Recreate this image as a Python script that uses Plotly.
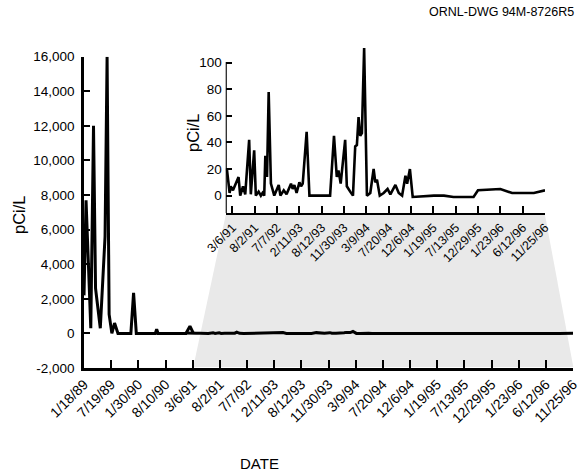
import plotly.graph_objects as go

W, H = 579, 476

# ---------------- data ----------------
tick_dates = ["1/18/89", "7/19/89", "1/30/90", "8/10/90", "3/6/91", "8/2/91",
              "7/7/92", "2/11/93", "8/12/93", "11/30/93", "3/9/94", "7/20/94",
              "12/6/94", "1/19/95", "7/13/95", "12/29/95", "1/23/96", "6/12/96",
              "11/25/96"]
SAMPLES_PER_TICK = 40          # category samples between labelled ticks
INSET_FIRST_TICK = 4           # inset starts at 3/6/91

# 1989-1991 record (sample number, pCi/L)
early_idx = [0, 3, 10, 14, 17, 24, 31, 34, 37, 41, 45, 50, 69, 73, 77,
             105, 107, 109, 150, 156, 161]
early_val = [2200, 7700, 300, 12000, 2600, 300, 5600, 16000, 1100, 0, 600, 0, 0,
             2350, 0, 0, 250, 0, 0, 420, 20]

# 1991-1996 record (sample number, pCi/L)
recent_idx = [150, 155, 157, 161, 165, 171, 174, 179, 183, 190, 193, 199, 202,
              207, 211, 214, 217, 219, 222, 225, 229, 235, 243, 246, 252, 257,
              265, 268, 271, 275, 280, 283, 286, 293, 298, 329, 335, 342, 347,
              350, 354, 362, 365, 371, 376, 380, 383, 386, 389, 392, 396, 401,
              407, 413, 416, 419, 424, 431, 438, 443, 452, 458, 464, 470, 473,
              478, 483, 521, 539, 556, 592, 600, 640, 661, 700, 720]
recent_val = [20.5, 2, 7, 4, 8, 14, 0, 7, 1, 42, 1, 34, 0,
              3, 0, 2, 0, 30, 14, 78, 9, 0, 8, 0, 4, 1,
              9, 5, 8, 2, 10, 7, 9, 48, 0, 0, 0, 45, 14,
              19, 9, 42, 7, 3, 0, 37, 38, 59, 45, 47, 111, 0,
              2, 20, 10, 12, 0, 2, 5, 1, 8, 2, 0, 15, 9,
              20, -1, 0, 0, -1, -1, 4, 5, 2, 2, 4]

main_yticks = [-2000, 0, 2000, 4000, 6000, 8000, 10000, 12000, 14000, 16000]
main_yticklabels = ["-2,000", "0", "2,000", "4,000", "6,000", "8,000",
                    "10,000", "12,000", "14,000", "16,000"]
inset_yticks = [0, 20, 40, 60, 80, 100]
inset_yticklabels = ["0", "20", "40", "60", "80", "100"]

# ---------------- helpers ----------------
def px_x(p):
    return p / W

def px_y(p):
    return 1 - p / H

main_tickvals = [i * SAMPLES_PER_TICK for i in range(len(tick_dates))]
inset_tickvals = main_tickvals[INSET_FIRST_TICK:]
inset_ticktext = tick_dates[INSET_FIRST_TICK:]

FONT = "Liberation Sans, Arial, sans-serif"

fig = go.Figure()
fig.add_trace(go.Scatter(x=early_idx, y=early_val, mode="lines",
                         line=dict(color="black", width=3), xaxis="x", yaxis="y",
                         showlegend=False, hoverinfo="skip"))
fig.add_trace(go.Scatter(x=recent_idx, y=recent_val, mode="lines",
                         line=dict(color="black", width=3), xaxis="x", yaxis="y",
                         showlegend=False, hoverinfo="skip"))
fig.add_trace(go.Scatter(x=recent_idx, y=recent_val, mode="lines",
                         line=dict(color="black", width=2.6), xaxis="x2", yaxis="y2",
                         showlegend=False, hoverinfo="skip"))

inset_xmin = main_tickvals[INSET_FIRST_TICK] - 12
inset_ymin, inset_ymax = -13.3, 112

fig.update_layout(
    template="none",
    width=W, height=H,
    margin=dict(l=0, r=0, t=0, b=0, pad=0),
    paper_bgcolor="white",
    plot_bgcolor="rgba(0,0,0,0)",
    font=dict(family=FONT, color="black", size=13),
    xaxis=dict(domain=[px_x(84), px_x(573)], range=[0, main_tickvals[-1]],
               tickmode="array", tickvals=main_tickvals, ticktext=tick_dates,
               tickangle=-45, ticks="inside", ticklen=8, tickwidth=1.5,
               tickcolor="black", showline=True, linewidth=2.5, linecolor="black",
               showgrid=False, zeroline=False, tickfont=dict(size=14),
               ticklabeloverflow="allow", automargin=False, anchor="y"),
    yaxis=dict(domain=[px_y(368), px_y(56.7)], range=[-2000, 16000],
               tickmode="array", tickvals=main_yticks, ticktext=main_yticklabels,
               ticks="inside", ticklen=6, tickwidth=1.5, tickcolor="black",
               showline=True, linewidth=2.5, linecolor="black", showgrid=False,
               zeroline=False, tickfont=dict(size=13.5), ticklabeloverflow="allow",
               ticklabelstandoff=4, automargin=False, anchor="x"),
    xaxis2=dict(domain=[px_x(225.7), px_x(545)], range=[inset_xmin, main_tickvals[-1]],
                tickmode="array", tickvals=inset_tickvals, ticktext=inset_ticktext,
                tickangle=-45, ticks="inside", ticklen=7, tickwidth=1.5,
                tickcolor="black", showline=True, linewidth=2.2, linecolor="black",
                showgrid=False, zeroline=False, tickfont=dict(size=12.5),
                ticklabeloverflow="allow", automargin=False, anchor="y2"),
    yaxis2=dict(domain=[px_y(213.3), px_y(46.7)], range=[inset_ymin, inset_ymax],
                tickmode="array", tickvals=inset_yticks, ticktext=inset_yticklabels,
                ticks="inside", ticklen=6, tickwidth=1.5, tickcolor="black",
                showline=False, showgrid=False, zeroline=False,
                tickfont=dict(size=13.5), ticklabelstandoff=3,
                ticklabeloverflow="allow", automargin=False, anchor="x2"),
)

# zoom-region band linking the inset to the main axis
fig.add_shape(type="path", xref="paper", yref="paper", layer="below",
              path=(f"M {px_x(225.7)},{px_y(215)} L {px_x(545)},{px_y(215)} "
                    f"L {px_x(573.3)},{px_y(367)} L {px_x(193.3)},{px_y(367)} Z"),
              fillcolor="#e9e9e9", line=dict(width=0))
# inset y-axis line (stops at the 100 tick)
fig.add_shape(type="line", xref="x2", yref="y2", x0=inset_xmin, x1=inset_xmin,
              y0=inset_ymin, y1=100.5, line=dict(color="black", width=2.2))

fig.add_annotation(text="pCi/L", xref="paper", yref="paper", x=px_x(19), y=px_y(215),
                   xanchor="center", yanchor="middle",
                   showarrow=False, textangle=-90, font=dict(size=16.5))
fig.add_annotation(text="pCi/L", xref="paper", yref="paper", x=px_x(193), y=px_y(133),
                   xanchor="center", yanchor="middle",
                   showarrow=False, textangle=-90, font=dict(size=16.5))
fig.add_annotation(text="DATE", xref="paper", yref="paper", x=px_x(259), y=px_y(463),
                   xanchor="center", yanchor="middle",
                   showarrow=False, font=dict(size=15))
fig.add_annotation(text="ORNL-DWG 94M-8726R5", xref="paper", yref="paper",
                   x=px_x(576), y=px_y(12), xanchor="right", yanchor="middle",
                   showarrow=False, font=dict(size=12.5))

fig.write_html("out.html")
